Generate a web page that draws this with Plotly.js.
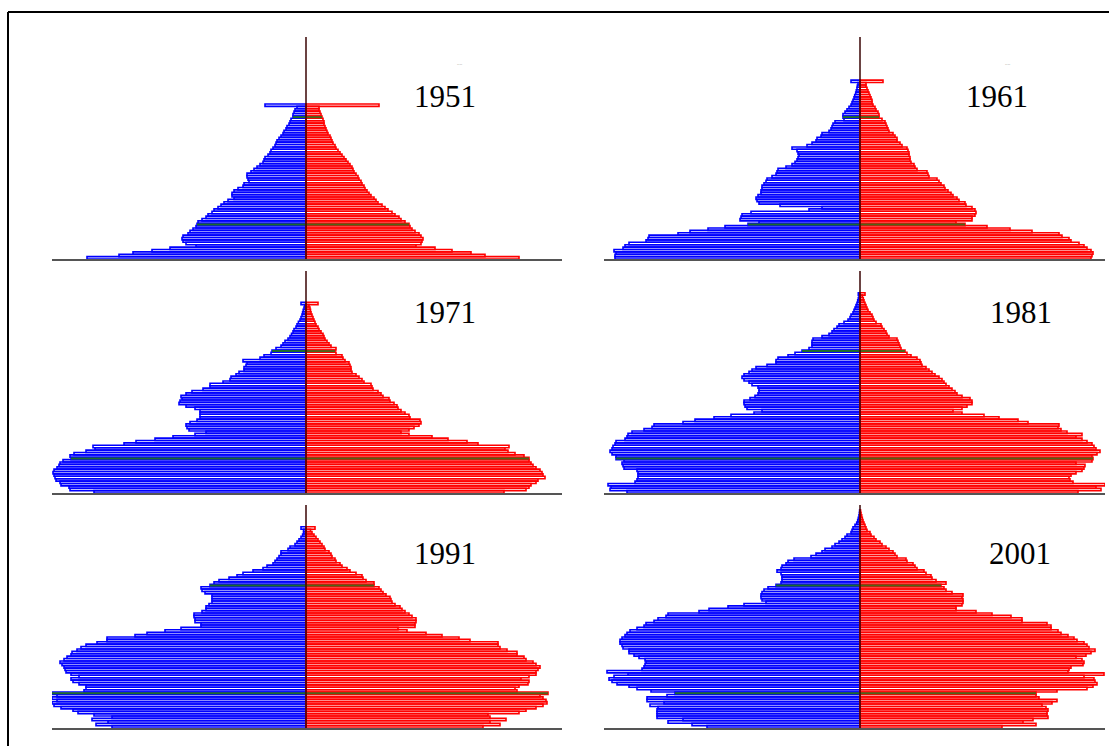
<!DOCTYPE html>
<html><head><meta charset="utf-8">
<script src="https://cdn.plot.ly/plotly-3.0.1.min.js"></script>
<style>html,body{margin:0;padding:0;background:#fff}#chart{width:1109px;height:746px}</style>
</head><body><div id="chart"></div>
<script>
// ---- data (bar half-lengths, arbitrary units) ----
const years = ["1951","1961","1971","1981","1991","2001"];
const greenAges = [14, 59];

const male1951 = [219,187,173,154,136,110,120,123,124,123,118,116,113,110,109,108,104,100,98,94,92,88,85,82,78,72,74,74,72,68,63,62,57,58,59,59,55,52,49,46,43,42,41,38,36,35,33,31,30,29,27,25,23,22,20,19,17,16,15,13,13,12,11,9,41];
const female1951 = [213,179,165,146,129,110,115,116,117,115,113,109,106,104,103,99,95,93,89,86,82,79,76,72,70,68,65,63,61,59,58,56,55,53,52,50,48,47,46,44,42,40,38,36,34,32,30,29,27,26,25,24,22,21,20,19,18,18,17,16,15,14,13,13,73];

const male1961 = [245,245,244,246,237,235,231,214,212,211,182,170,152,135,112,101,120,119,118,109,51,38,80,101,103,104,102,99,99,98,98,96,94,93,88,84,83,82,74,68,65,63,62,61,62,63,68,53,48,44,43,39,38,31,29,28,27,25,16,17,17,15,13,11,9,8,7,6,5.3,4.3,3.7,3,2.7,2,9];
const female1961 = [231,232,233,231,227,224,219,211,209,202,199,172,150,127,105,96,112,112,115,116,115,112,106,105,99,97,93,91,88,85,84,81,79,77,69,68,67,57,55,54,51,50,50,49,49,48,47,42,40,37,37,35,33,29,28,27,26,25,22,19,19,18,16,15,13,12,12,11,10,9,8,7,6,6,23];

const male1971 = [212,236,237,245,246,250,251,252,253,252,249,247,246,243,235,236,232,220,211,213,182,170,151,133,111,100,117,119,120,116,109,106,106,106,106,111,120,127,126,124,125,120,114,103,96,96,83,76,75,70,67,62,62,60,59,63,46,42,35,34,30,25,23,21,18,16,14.5,13,12,10,9,7.6,6,5,4,3.4,2.8,2,1.4,5];
const female1971 = [198,220,223,225,230,232,239,237,236,234,230,227,225,223,223,218,209,202,199,203,172,161,142,126,103,95,103,108,113,115,114,104,103,99,95,92,91,88,84,83,77,75,72,67,66,65,58,56,53,50,46,45,45,44,43,39,37,36,30,29,30,25,23,21,19,18,17,15,13,12,10,9,8,7,6,5,4.5,4,3,12];

const male1981 = [233,250,249,252,225,223,222,222,222,223,236,237,238,236,244,244,248,250,248,247,245,244,235,233,232,228,216,208,206,177,165,146,129,106,98,113,115,116,116,110,105,102,101,101,102,108,111,116,118,116,111,108,104,93,84,84,82,72,65,58,51,48,48,48,47,38,31,28,26,23,21,16,12,10,9,7,6,5,4,3,2.3,1.7,1,1.7];
const female1981 = [218,241,236,245,213,210,209,211,216,222,224,225,216,232,233,232,237,240,236,234,232,227,222,216,222,207,201,198,199,168,158,139,124,102,93,102,107,112,112,110,102,97,95,92,89,86,84,82,79,75,72,69,66,62,61,60,57,51,47,45,41,40,39,38,37,29,27,26,24,22,21,16,14,13,12,10,8,7,6,5,4,3.3,2.3,5];

const male1991 = [194,210,198,214,194,212,228,233,245,252,254,249,254,249,254,222,220,220,227,233,235,227,235,240,241,242,244,246,242,239,235,234,229,225,220,209,199,199,171,159,141,125,105,105,111,111,112,112,104,100,100,97,94,94,94,94,101,104,105,96,92,87,77,69,63,53,43,39,33,31,29,27,25,25,18,16,11,9,7,5,3.4,2.4,2.4,5];
const female1991 = [177,194,184,200,184,182,213,220,230,237,241,240,237,234,242,211,209,213,222,223,215,223,230,230,232,234,230,227,220,218,211,211,201,194,192,192,164,153,136,120,101,92,109,109,110,110,106,103,99,96,94,89,86,85,84,80,77,75,73,68,68,60,57,56,50,44,41,36,34,30,29,26,25,23,19,18,16,14,12,10,8,6,4.5,9];

const male2001 = [153,168,192,177,203,203,203,203,202,210,196,213,213,193,185,209,223,231,243,248,251,246,232,253,218,216,215,214,215,221,226,231,231,237,238,240,240,238,235,233,230,223,216,214,206,202,194,192,161,151,132,116,94,98,99,99,98,96,92,84,79,78,78,78,79,83,79,78,74,72,66,49,44,38,35,28,25,21,18,15,13,9,8,7,5,3.3,2.3,1.7,1,0.6,0.4];
const female2001 = [142,176,163,173,188,187,187,188,186,182,192,197,179,176,176,197,227,233,237,235,234,224,244,208,209,211,223,224,222,216,226,231,235,229,227,224,217,214,208,201,198,191,191,187,162,162,151,132,116,96,96,102,103,103,102,103,92,86,84,81,86,76,72,71,66,64,57,55,53,47,46,37,35,33,29,26,22,20,16,14,11,10,7,6,5,4,3,2.3,1.7,1,0.6];

const maleSeries = [male1951, male1961, male1971, male1981, male1991, male2001];
const femaleSeries = [female1951, female1961, female1971, female1981, female1991, female2001];

// ---- layout geometry (pixels) ----
const W = 1109, H = 746;
const colX = [[52, 562, 254, 256], [604, 1105, 256, 245]];
const rowY = [[37, 259], [271, 493], [505, 728]];
const labelPos = [[445, 97], [997, 97], [445, 313], [1021, 313], [445, 553], [1020, 553]];
const px = p => p / W, py = p => 1 - p / H;

const traces = [], layout = {
  width: W, height: H, margin: {l: 0, r: 0, t: 0, b: 0},
  paper_bgcolor: '#fff', plot_bgcolor: 'rgba(0,0,0,0)',
  showlegend: false, barmode: 'overlay', bargap: 0,
  shapes: [], annotations: []
};

function greenPath(vals, sign) {
  const xs = [], ys = [];
  greenAges.forEach((a, k) => {
    if (k) { xs.push(null); ys.push(null); }
    xs.push(sign * vals[a], 0); ys.push(a, a);
  });
  return {x: xs, y: ys};
}

for (let i = 0; i < 6; i++) {
  const s = i === 0 ? '' : String(i + 1);
  const col = colX[i % 2], row = rowY[Math.floor(i / 2)];
  const m = maleSeries[i], f = femaleSeries[i];
  const ages = m.map((_, k) => k);
  traces.push({
    type: 'bar', orientation: 'h', y: ages, x: m.map(v => -v), width: 1,
    xaxis: 'x' + s, yaxis: 'y' + s, hoverinfo: 'skip',
    marker: {color: 'rgba(0,0,0,0)', line: {width: 1.6, color: '#0000ff'}}
  });
  traces.push({
    type: 'bar', orientation: 'h', y: ages, x: f, width: 1,
    xaxis: 'x' + s, yaxis: 'y' + s, hoverinfo: 'skip',
    marker: {color: 'rgba(0,0,0,0)', line: {width: 1.6, color: '#ff0000'}}
  });
  // working-age boundary rows highlighted in green (same values as the bars)
  const gm = greenPath(m, -1), gf = greenPath(f, 1);
  traces.push({type: 'scatter', mode: 'lines', x: gm.x, y: gm.y, xaxis: 'x' + s, yaxis: 'y' + s,
    hoverinfo: 'skip', line: {color: '#1d6b2b', width: 2}});
  traces.push({type: 'scatter', mode: 'lines', x: gf.x, y: gf.y, xaxis: 'x' + s, yaxis: 'y' + s,
    hoverinfo: 'skip', line: {color: '#4d6419', width: 2}});
  layout['xaxis' + s] = {
    domain: [px(col[0]), px(col[1])], range: [-col[2], col[3]],
    anchor: 'y' + s, showticklabels: false, ticks: '', showgrid: false,
    zeroline: false, showline: true, linecolor: '#555', linewidth: 2,
    layer: 'above traces', fixedrange: true
  };
  layout['yaxis' + s] = {
    domain: [py(row[1]), py(row[0])], range: [-0.5, 92.6],
    anchor: 'x' + s, visible: false, fixedrange: true
  };
  layout.shapes.push({type: 'line', xref: 'x' + s, yref: 'y' + s + ' domain',
    x0: 0, x1: 0, y0: 0, y1: 1, layer: 'above', line: {color: '#3a0505', width: 1.5}});
  layout.annotations.push({xref: 'paper', yref: 'paper', x: px(labelPos[i][0]), y: py(labelPos[i][1]),
    xanchor: 'center', yanchor: 'middle', showarrow: false, text: years[i],
    font: {family: 'Liberation Serif, Times New Roman, serif', size: 31, color: '#000'}});
}
layout.annotations.push({xref: 'paper', yref: 'paper', x: px(459), y: py(58), showarrow: false,
  text: '....', font: {size: 5, color: '#888'}});
layout.annotations.push({xref: 'paper', yref: 'paper', x: px(1012), y: py(58), showarrow: false,
  text: '....', font: {size: 5, color: '#888'}});
layout.shapes.push({type: 'line', xref: 'paper', yref: 'paper', x0: px(8), x1: 1, y0: py(12), y1: py(12), line: {color: '#000', width: 2}});
layout.shapes.push({type: 'line', xref: 'paper', yref: 'paper', x0: px(8), x1: px(8), y0: py(12), y1: 0, line: {color: '#000', width: 2}});

Plotly.newPlot('chart', traces, layout, {staticPlot: true, displayModeBar: false});
</script></body></html>
